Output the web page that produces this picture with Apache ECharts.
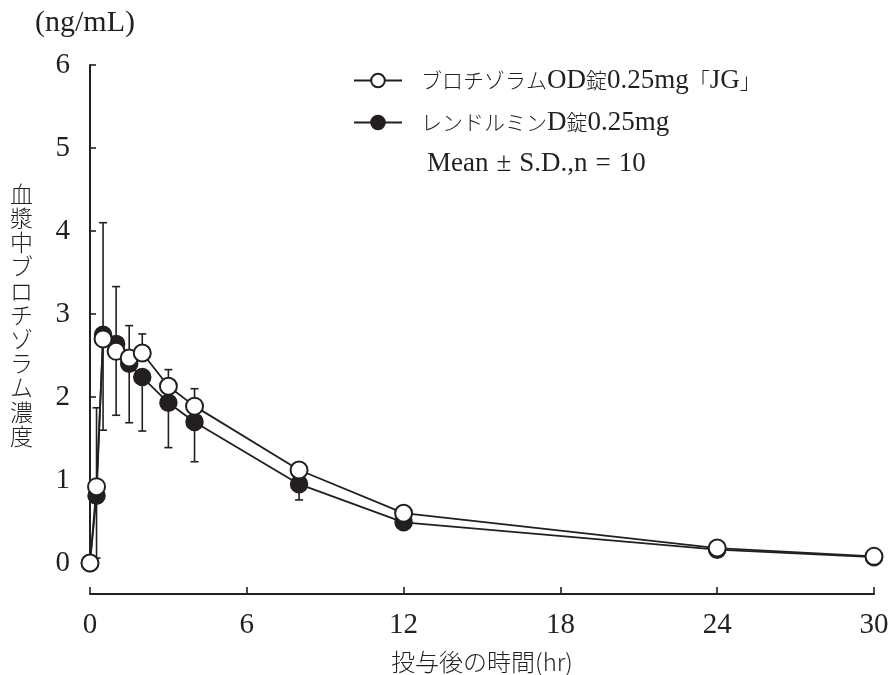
<!DOCTYPE html>
<html><head><meta charset="utf-8">
<script src="https://cdn.jsdelivr.net/npm/echarts@6/dist/echarts.min.js"></script>
<style>html,body{margin:0;padding:0;background:#fff}#c{width:894px;height:675px}</style>
</head><body><div id="c"></div>
<script>
const times = [0, 0.25, 0.5, 1, 1.5, 2, 3, 4, 8, 12, 24, 30];
const openMean = [0, 0.92, 2.70, 2.55, 2.47, 2.53, 2.13, 1.89, 1.12, 0.60, 0.18, 0.08];
const openSD   = [0, 0.95, 1.40, 0.78, 0.39, 0.23, 0.20, 0.21, 0.05, 0.04, 0.03, 0.02];
const filledMean = [0, 0.81, 2.75, 2.64, 2.40, 2.24, 1.93, 1.70, 0.95, 0.49, 0.16, 0.07];
const filledSD   = [0, 0.75, 1.15, 0.86, 0.71, 0.65, 0.54, 0.48, 0.19, 0.06, 0.03, 0.02];
const xTicks = [0, 6, 12, 18, 24, 30];
const yTicks = [0, 1, 2, 3, 4, 5, 6];
const seriesNames = ['ブロチゾラムOD錠0.25mg「JG」', 'レンドルミンD錠0.25mg'];
const noteText = 'Mean±S.D.,n=10';
const unitText = '(ng/mL)';
const yTitle = '血漿中ブロチゾラム濃度';
const xTitle = '投与後の時間(hr)';

const LAT = "'Liberation Serif',serif";
const CJK = "'Noto Sans CJK JP',sans-serif";
const INK = '#231f20';

// wrap runs of CJK / symbol / Latin characters in rich-text tags
const CJK_RE = /[\u3000-\u30ff\u4e00-\u9fff\uff00-\uffef]/;
const SYM_RE = /[±=]/;
function cls(ch){ return CJK_RE.test(ch) ? 'c' : (SYM_RE.test(ch) ? 's' : 'l'); }
function richWrap(s){
  let out = '', cur = '', curC = null;
  for (const ch of s){
    const k = cls(ch);
    if (k !== curC && cur){ out += '{' + curC + '|' + cur + '}'; cur = ''; }
    curC = k; cur += ch;
  }
  if (cur) out += '{' + curC + '|' + cur + '}';
  return out;
}
const richStyles = {
  c:{fontFamily:CJK, fontSize:21, color:INK, fontWeight:300},
  l:{fontFamily:LAT, fontSize:27, color:INK},
  s:{fontFamily:LAT, fontSize:27, color:INK, padding:[0,8,0,8]}
};

function pairs(xs, ys){ return xs.map((x,i)=>[x, ys[i]]); }
function errData(xs, m, sd, dir){ return xs.map((x,i)=>[x, m[i], m[i] + dir*sd[i]]); }

function errRender(params, api){
  const x = api.value(0), m = api.value(1), e = api.value(2);
  const p0 = api.coord([x, m]);
  const p1 = api.coord([x, e]);
  const w = 4;
  const st = {stroke: INK, lineWidth: 1.6};
  return {type:'group', children:[
    {type:'line', shape:{x1:p0[0], y1:p0[1], x2:p1[0], y2:p1[1]}, style:st},
    {type:'line', shape:{x1:p1[0]-w, y1:p1[1], x2:p1[0]+w, y2:p1[1]}, style:st}
  ]};
}

const chart = echarts.init(document.getElementById('c'));
chart.setOption({
  animation:false,
  backgroundColor:'#fff',
  grid:[
    {left:90, right:20, top:65, bottom:112},
    {left:90, right:20, top:593, height:1}
  ],
  xAxis:[
    {type:'value', gridIndex:0, min:0, max:30, interval:6,
     axisLine:{show:false}, axisTick:{show:false}, axisLabel:{show:false}, splitLine:{show:false}},
    {type:'value', gridIndex:1, min:xTicks[0], max:xTicks[xTicks.length-1], interval:6, position:'bottom',
     axisLine:{show:true, lineStyle:{color:INK, width:2}},
     axisTick:{show:true, inside:true, length:7, lineStyle:{color:INK, width:1.6}},
     axisLabel:{show:true, margin:17, color:INK, fontFamily:LAT, fontSize:29},
     splitLine:{show:false},
     name:xTitle, nameLocation:'middle', nameGap:56,
     nameTextStyle:{color:INK, fontFamily:CJK, fontSize:24, fontWeight:300}}
  ],
  yAxis:[
    {type:'value', gridIndex:0, min:yTicks[0], max:yTicks[yTicks.length-1], interval:1,
     axisLine:{show:true, lineStyle:{color:INK, width:2}},
     axisTick:{show:true, inside:true, length:6, lineStyle:{color:INK, width:1.6}},
     axisLabel:{show:true, margin:20, color:INK, fontFamily:LAT, fontSize:29},
     splitLine:{show:false}},
    {type:'value', gridIndex:1, show:false, min:0, max:1}
  ],
  legend:{
    orient:'vertical', left:348, top:62, itemWidth:48, itemHeight:17, itemGap:15,
    data:[seriesNames[0], seriesNames[1]],
    formatter: name => richWrap(name),
    textStyle:{color:INK, padding:[0,0,0,14], rich:richStyles}
  },
  graphic:[
    {type:'text', left:35, top:8, style:{text:unitText, fill:INK, font:"30px "+LAT}},
    {type:'text', left:427, top:150, style:{text:richWrap(noteText), rich:richStyles, fill:INK}},
    {type:'text', left:10, top:182, style:{text:yTitle.split('').join('\n'), fill:INK, font:"300 23px "+CJK, lineHeight:24.2}}
  ],
  series:[
    {type:'custom', name:'errFilled', xAxisIndex:0, yAxisIndex:0, renderItem:errRender,
     data:errData(times, filledMean, filledSD, -1), z:1, silent:true},
    {type:'custom', name:'errOpen', xAxisIndex:0, yAxisIndex:0, renderItem:errRender,
     data:errData(times, openMean, openSD, 1), z:1, silent:true},
    {type:'line', name:seriesNames[1], xAxisIndex:0, yAxisIndex:0, data:pairs(times, filledMean),
     symbol:'circle', symbolSize:17, clip:false, z:3,
     lineStyle:{color:INK, width:1.8}, itemStyle:{color:INK, borderColor:INK, borderWidth:1.5}},
    {type:'line', name:seriesNames[0], xAxisIndex:0, yAxisIndex:0, data:pairs(times, openMean),
     symbol:'circle', symbolSize:17, clip:false, z:4,
     lineStyle:{color:INK, width:1.8}, itemStyle:{color:'#fff', borderColor:INK, borderWidth:2}}
  ]
});
</script></body></html>
